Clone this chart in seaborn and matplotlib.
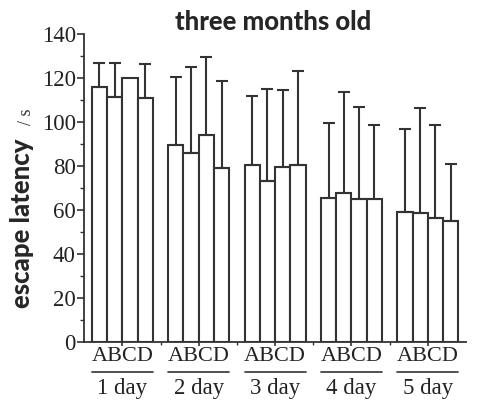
import numpy as np
import pandas as pd
import matplotlib
matplotlib.use("Agg")
import matplotlib.pyplot as plt
import matplotlib.transforms as mtransforms
from matplotlib import font_manager as fm
from matplotlib.ticker import MultipleLocator, FixedLocator
import seaborn as sns

days = ['1 day', '2 day', '3 day', '4 day', '5 day']
groups = ['A', 'B', 'C', 'D']

mean_a = [116.0, 89.5, 80.5, 65.3, 59.2]
mean_b = [111.5, 85.8, 73.3, 67.6, 58.5]
mean_c = [120.2, 94.0, 79.5, 65.2, 56.5]
mean_d = [111.0, 79.0, 80.3, 65.2, 55.1]

err_a = [11.0, 31.0, 31.2, 34.1, 37.6]
err_b = [15.5, 39.2, 41.7, 46.2, 48.0]
err_c = [0.0, 35.7, 35.0, 41.8, 42.3]
err_d = [15.5, 39.8, 42.9, 33.4, 25.9]

means = [mean_a, mean_b, mean_c, mean_d]
errs = [err_a, err_b, err_c, err_d]

df = pd.DataFrame({
    'day': days * len(groups),
    'group': [g for g in groups for _ in days],
    'latency': [v for m in means for v in m],
})


def heavy_font():
    # look for an installed black / extra-bold face, else DejaVu bold
    best = None
    for fam in ['Lato', 'Roboto', 'Inter', 'Open Sans', 'Noto Sans']:
        for f in fm.fontManager.ttflist:
            if f.name == fam and isinstance(f.weight, int) and f.weight >= 800 \
                    and f.style == 'normal':
                if best is None or f.weight > best.weight:
                    best = f
        if best is not None:
            return fm.FontProperties(fname=best.fname)
    return fm.FontProperties(family='DejaVu Sans', weight='bold')


sns.set_style("ticks")
plt.rcParams['font.family'] = ['Liberation Serif', 'DejaVu Serif']

edge = '#333333'
fig = plt.figure(figsize=(4.78, 4.11), dpi=100)
ax = fig.add_axes([0.176, 0.168, 0.799, 0.749])

sns.barplot(data=df, x='day', y='latency', hue='group', order=days,
            hue_order=groups, palette=['white'] * 4, edgecolor=edge,
            linewidth=1.5, errorbar=None, legend=False, ax=ax, width=0.8)

# one-sided SD bars on top of each bar
for cont, err in zip(ax.containers, errs):
    for bar, e in zip(cont, err):
        if e <= 0:
            continue
        xc = bar.get_x() + bar.get_width() / 2
        top = bar.get_height()
        ax.errorbar(xc, top, yerr=[[0], [e]], fmt='none', ecolor=edge,
                    elinewidth=1.5, capsize=4, capthick=1.5)

ax.set_ylim(0, 140)
ax.set_xlim(-0.5, 4.5)
ax.yaxis.set_major_locator(MultipleLocator(20))
ax.yaxis.set_minor_locator(MultipleLocator(10))
ax.tick_params(axis='y', which='major', length=5, width=1.2, color=edge,
               labelsize=16.5, pad=1, labelcolor='#222222')
ax.tick_params(axis='y', which='minor', length=3, width=1.0, color=edge)

ax.set_xticks(range(len(days)))
ax.set_xticklabels(['ABCD'] * len(days))
ax.xaxis.set_minor_locator(FixedLocator([0.5, 1.5, 2.5, 3.5]))
ax.tick_params(axis='x', which='major', length=3, width=1.2, color=edge,
               labelsize=16, pad=0.5, labelcolor='#222222')
ax.tick_params(axis='x', which='minor', length=2, width=1.0, color=edge)

for s in ['top', 'right']:
    ax.spines[s].set_visible(False)
for s in ['left', 'bottom']:
    ax.spines[s].set_color(edge)
    ax.spines[s].set_linewidth(1.3)

# second label row: underline + day name
trans = mtransforms.blended_transform_factory(ax.transData, ax.transAxes)
for i, d in enumerate(days):
    ax.plot([i - 0.4, i + 0.4], [-0.097, -0.097], color=edge, lw=1.2,
            transform=trans, clip_on=False)
    ax.text(i, -0.15, d, transform=trans, ha='center', va='center',
            fontsize=16.5, color='#222222')

ax.set_xlabel('')
ax.set_ylabel('')
hf = heavy_font()
hf_lab = hf.copy()
hf_lab.set_size(18.5)
hf_title = hf.copy()
hf_title.set_size(18.5)
fig.text(0.046, 0.457, 'escape latency', rotation=90, ha='center', va='center',
         fontproperties=hf_lab)
fig.text(0.056, 0.716, '/ s', rotation=90, ha='center', va='center',
         fontsize=13, color='#333333')
fig.text(0.572, 0.946, 'three months old', ha='center', va='center',
         fontproperties=hf_title)

fig.savefig('out.png', dpi=100)
